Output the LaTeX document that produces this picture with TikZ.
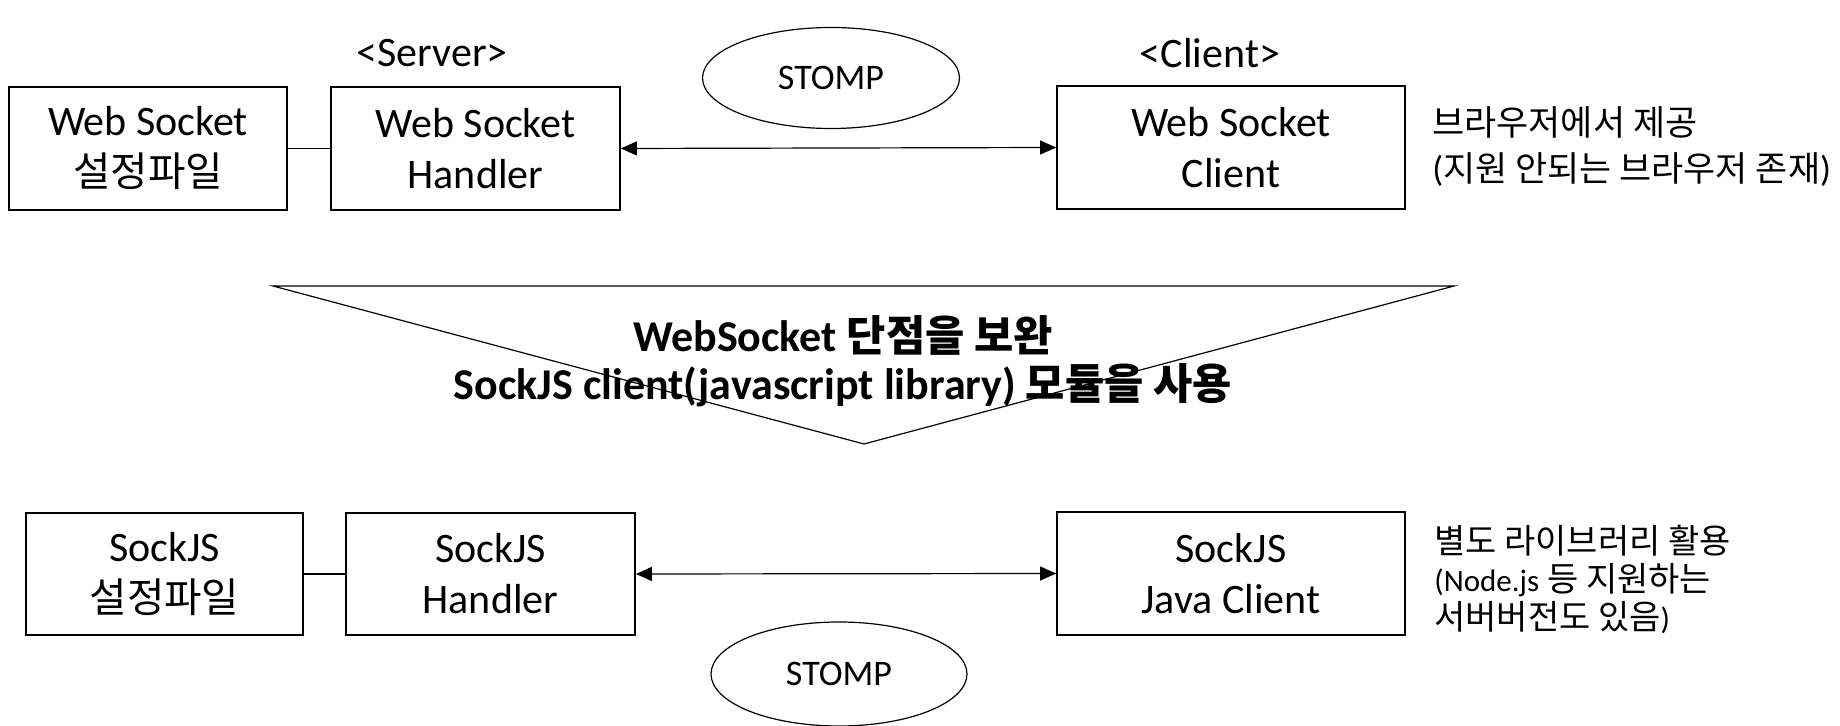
\documentclass[tikz,border=0pt]{standalone}
\usepackage{fontspec}
\setmainfont{Carlito}
\newfontfamily\krfont[Scale=0.97]{Noto Sans CJK KR}
\newcommand\hk[1]{{\krfont #1}}
\usetikzlibrary{shapes.geometric,arrows.meta}
\tikzset{
  box/.style={draw, line width=0.9pt, inner sep=0pt, align=center,
    font=\fontsize{21}{25.5}\selectfont},
  proto/.style={draw, ellipse, line width=0.6pt, inner sep=0pt,
    font=\fontsize{18}{22}\selectfont},
  tag/.style={font=\fontsize{21}{25}\selectfont},
  note/.style={align=left, anchor=west, inner sep=0pt},
  link/.style={line width=0.6pt},
  duplex/.style={line width=0.6pt, {Triangle[length=8pt,width=7pt]}-{Triangle[length=8pt,width=7pt]}}
}
\begin{document}
\begin{tikzpicture}[x=0.5pt,y=-0.5pt]
\useasboundingbox (0,0) rectangle (1840,726);

% WebSocket stack
\node[tag] (srv) at (432,53) {<Server>};
\node[tag] (cli) at (1210,53) {<Client>};
\node[box, minimum width=139pt, minimum height=61.5pt] (wsconf) at (148,148.5) {Web Socket\\\hk{설정파일}};
\node[box, minimum width=144.5pt, minimum height=61.5pt] (wshand) at (475.5,148.5) {Web Socket\\Handler};
\node[box, minimum width=174pt, minimum height=61.5pt] (wscli) at (1231,147.5) {Web Socket\\Client};
\node[proto, minimum width=128.5pt, minimum height=50.5pt] (stomp1) at (831,78) {STOMP};
\node[note, font=\fontsize{18}{23}\selectfont] (wsnote) at (1432,147) {\hk{브라우저에서 제공}\\(\hk{지원 안되는 브라우저 존재})};

\draw[link] (wsconf.east) -- (wshand.west);
\draw[duplex] (wshand.east) -- (wscli.west);

% Transition triangle
\coordinate (tl) at (273,286);
\coordinate (tr) at (1454,286);
\coordinate (tb) at (864,444);
\draw[line width=0.6pt] (tl) -- (tr) -- (tb) -- cycle;
\node[align=center, font=\bfseries\fontsize{22}{24}\selectfont] (why) at (843,361)
  {WebSocket \hk{단점을 보완}\\SockJS client(javascript library) \hk{모듈을 사용}};

% SockJS stack
\node[box, minimum width=138.5pt, minimum height=61pt] (sjconf) at (164.5,574) {SockJS\\\hk{설정파일}};
\node[box, minimum width=144.5pt, minimum height=61pt] (sjhand) at (490.5,574) {SockJS\\Handler};
\node[box, minimum width=174pt, minimum height=61.5pt] (sjcli) at (1231,573.5) {SockJS\\Java Client};
\node[proto, minimum width=128pt, minimum height=52pt] (stomp2) at (839,674) {STOMP};
\node[note, font=\fontsize{17.5}{19}\selectfont] (sjnote) at (1434,579)
  {\hk{별도 라이브러리 활용}\\{\fontsize{15.5}{19}\selectfont(Node.js} \hk{등 지원하는}\\\hk{서버버전도 있음}{\fontsize{15.5}{19}\selectfont)}};

\draw[link] (sjconf.east) -- (sjhand.west);
\draw[duplex] (sjhand.east) -- (sjcli.west);
\end{tikzpicture}
\end{document}
